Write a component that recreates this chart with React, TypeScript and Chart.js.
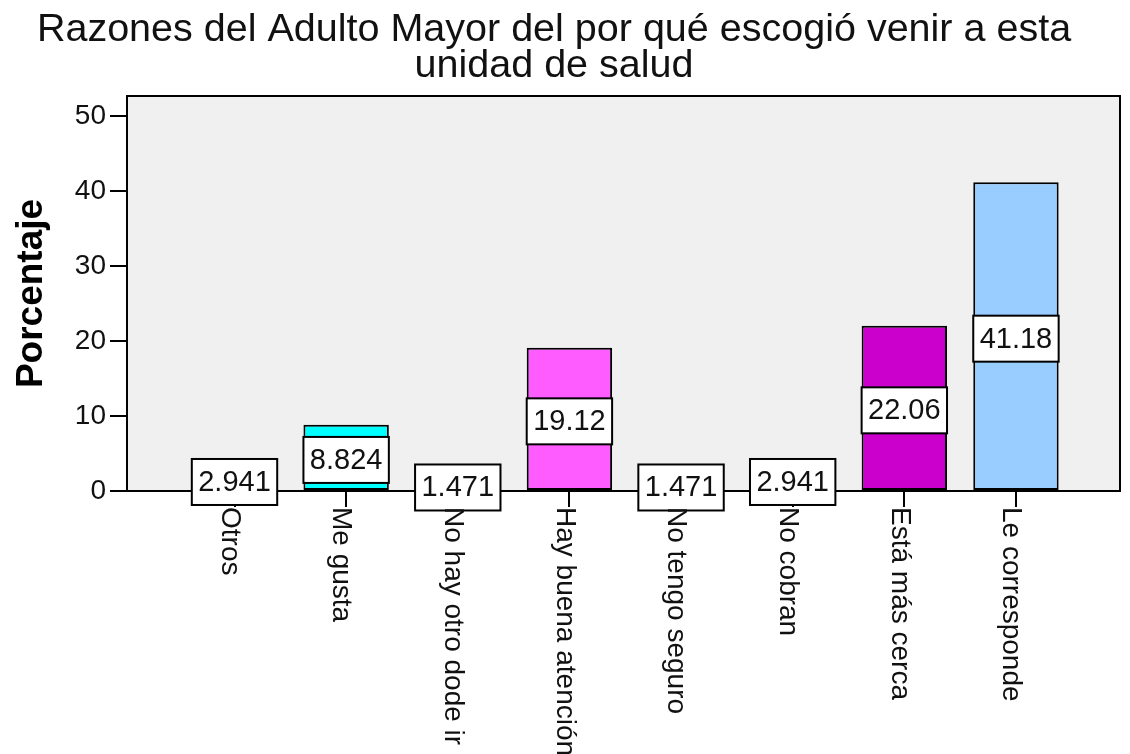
import { useEffect, useRef } from "react";
import { Chart, registerables } from "chart.js";

Chart.register(...registerables);

const titleLines = [
  "Razones del Adulto Mayor del por qué escogió venir a esta",
  "unidad de salud",
];
const categories = [
  "Otros",
  "Me gusta",
  "No hay otro dode ir",
  "Hay buena atención",
  "No tengo seguro",
  "No cobran",
  "Está más cerca",
  "Le corresponde",
];
const percentages = [2.941, 8.824, 1.471, 19.12, 1.471, 2.941, 22.06, 41.18];
const valueLabels = ["2.941", "8.824", "1.471", "19.12", "1.471", "2.941", "22.06", "41.18"];
const barColors = [
  "#6699ff",
  "#00ffff",
  "#99cc66",
  "#ff5cff",
  "#ffcc99",
  "#cc99ff",
  "#cc00cc",
  "#99ccff",
];
const yAxisTitle = "Porcentaje";
const yTickStep = 10;

const FONT = "'Liberation Sans', Arial, sans-serif";

const spssPlugin = {
  id: "spssDecor",
  beforeDraw(chart: any) {
    const { ctx, chartArea: a } = chart;
    ctx.save();
    ctx.fillStyle = "#f0f0f0";
    ctx.fillRect(a.left, a.top, a.right - a.left, a.bottom - a.top);
    ctx.restore();
  },
  afterDatasetsDraw(chart: any) {
    const { ctx } = chart;
    const yScale = chart.scales.y;
    const meta = chart.getDatasetMeta(0);
    ctx.save();
    meta.data.forEach((bar: any, i: number) => {
      const w = bar.width;
      const h = 46;
      const cx = bar.x;
      const cy = yScale.getPixelForValue(percentages[i] / 2) + 2;
      ctx.fillStyle = "#ffffff";
      ctx.fillRect(cx - w / 2, cy - h / 2, w, h);
      ctx.strokeStyle = "#000";
      ctx.lineWidth = 2;
      ctx.strokeRect(cx - w / 2, cy - h / 2, w, h);
      ctx.fillStyle = "#111";
      ctx.font = `29px ${FONT}`;
      ctx.textAlign = "center";
      ctx.textBaseline = "middle";
      ctx.fillText(valueLabels[i], cx, cy + 1);
    });
    ctx.restore();
  },
  afterDraw(chart: any) {
    const { ctx, chartArea: a } = chart;
    const xScale = chart.scales.x;
    ctx.save();
    // frame top & right
    ctx.strokeStyle = "#000";
    ctx.lineWidth = 2;
    ctx.beginPath();
    ctx.moveTo(a.left, a.top);
    ctx.lineTo(a.right, a.top);
    ctx.lineTo(a.right, a.bottom);
    ctx.stroke();

    // x category labels, rotated clockwise
    ctx.fillStyle = "#111";
    ctx.font = `28px ${FONT}`;
    categories.forEach((c, i) => {
      const px = xScale.getPixelForValue(i);
      ctx.save();
      ctx.translate(px - 5, a.bottom + 16);
      ctx.rotate(Math.PI / 2);
      ctx.textAlign = "left";
      ctx.textBaseline = "middle";
      ctx.fillText(c, 0, 0);
      ctx.restore();
    });

    // title
    ctx.font = `39.5px ${FONT}`;
    ctx.textAlign = "center";
    ctx.textBaseline = "alphabetic";
    ctx.fillText(titleLines[0], 554, 41);
    ctx.fillText(titleLines[1], 554, 77);
    ctx.restore();
  },
};

export default function App() {
  const ref = useRef<HTMLCanvasElement | null>(null);

  useEffect(() => {
    if (!ref.current) return;
    const chart = new Chart(ref.current, {
      type: "bar",
      data: {
        datasets: [
          {
            label: yAxisTitle,
            data: percentages.map((v, i) => ({ x: i, y: v })),
            backgroundColor: barColors,
            borderColor: "#000",
            borderWidth: 2,
            borderSkipped: false,
            categoryPercentage: 1,
            barPercentage: 0.765,
          } as any,
        ],
      },
      options: {
        responsive: false,
        animation: false,
        devicePixelRatio: 1,
        layout: { padding: { top: 96, right: 10, left: 0, bottom: 0 } },
        plugins: {
          legend: { display: false },
          tooltip: { enabled: false },
          title: { display: false },
        },
        scales: {
          x: {
            type: "linear",
            min: -0.963,
            max: 7.932,
            offset: false,
            z: 1,
            ticks: { display: false, stepSize: 1, includeBounds: false } as any,
            grid: {
              offset: false,
              drawOnChartArea: false,
              drawTicks: true,
              tickLength: 16,
              color: "#000",
              lineWidth: 2,
            },
            border: { display: true, color: "#000", width: 2 },
            afterBuildTicks: (s: any) => {
              s.ticks = categories.map((_, i) => ({ value: i }));
            },
            afterFit: (s: any) => {
              s.height = 263;
            },
          },
          y: {
            min: 0,
            max: 52.7,
            ticks: {
              stepSize: yTickStep,
              includeBounds: false,
              color: "#111",
              padding: 4,
              font: { family: FONT, size: 28 },
            } as any,
            grid: {
              drawOnChartArea: false,
              drawTicks: true,
              tickLength: 17,
              color: "#000",
              lineWidth: 2,
            },
            border: { display: true, color: "#000", width: 2 },
            title: {
              display: true,
              text: yAxisTitle,
              color: "#000",
              font: { family: FONT, size: 37, weight: "bold" },
              padding: { top: 10, bottom: 0 },
            },
            afterFit: (s: any) => {
              s.width = 127;
            },
          },
        },
      },
      plugins: [spssPlugin],
    });
    return () => chart.destroy();
  }, []);

  return (
    <div style={{ position: "fixed", left: 0, top: 0, width: 1130, height: 754, background: "#fff" }}>
      <canvas ref={ref} width={1130} height={754} />
    </div>
  );
}
